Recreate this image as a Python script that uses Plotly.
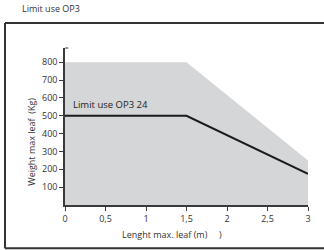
import plotly.graph_objects as go

# Data
area_x = [0, 1.5, 3]
area_y = [800, 800, 250]
line_x = [0, 1.5, 3]
line_y = [500, 500, 175]
x_tickvals = [0, 0.5, 1, 1.5, 2, 2.5, 3]
x_ticktext = ["0", "0,5", "1", "1,5", "2", "2,5", "3"]
y_tickvals = [100, 200, 300, 400, 500, 600, 700, 800]
y_ticktext = ["100", "200", "300", "400", "500", "600", "700", "800"]

FONT = "Open Sans"
DARK = "#3a3a3a"

fig = go.Figure()
fig.add_trace(go.Scatter(x=area_x, y=area_y, mode="lines", fill="tozeroy",
                         fillcolor="#d5d6d8", line=dict(width=0, color="#d5d6d8"),
                         hoverinfo="skip", showlegend=False))
fig.add_trace(go.Scatter(x=line_x, y=line_y, mode="lines",
                         line=dict(color="#1a1a1a", width=2), showlegend=False))

fig.update_layout(
    width=324, height=250,
    margin=dict(l=65, r=16, t=48, b=44.5),
    paper_bgcolor="white", plot_bgcolor="white",
    font=dict(family=FONT, size=9, color="#333333"),
    xaxis=dict(range=[0, 3], tickvals=x_tickvals, ticktext=x_ticktext,
               showgrid=False, zeroline=False, showline=True, linecolor=DARK,
               linewidth=1.5, ticks="outside", ticklen=4, tickcolor=DARK,
               tickwidth=1, tickfont=dict(size=9, family=FONT, color="#333")),
    yaxis=dict(range=[0, 880], tickvals=y_tickvals, ticktext=y_ticktext,
               showgrid=False, zeroline=False, showline=True, linecolor=DARK,
               linewidth=1.5, ticks="outside", ticklen=4, tickcolor=DARK,
               tickwidth=1, tickfont=dict(size=9, family=FONT, color="#333")),
)

# outer frame: top, left, bottom edges (right side runs past the picture edge)
frame = dict(color="#333333", width=2)
fig.add_shape(type="line", xref="paper", yref="paper",
              x0=-0.247, x1=1.2, y0=1.159, y1=1.159, line=frame)
fig.add_shape(type="line", xref="paper", yref="paper",
              x0=-0.247, x1=-0.247, y0=-0.276, y1=1.159, line=frame)
fig.add_shape(type="line", xref="paper", yref="paper",
              x0=-0.247, x1=1.2, y0=-0.276, y1=-0.276, line=frame)
# small tick at top of y axis
fig.add_shape(type="line", xref="paper", yref="paper",
              x0=0, x1=0.014, y0=1, y1=1, line=dict(color=DARK, width=1))

fig.add_annotation(text="Limit use OP3", xref="paper", yref="paper",
                   x=-0.185, y=1.254, xanchor="left", yanchor="middle",
                   showarrow=False, font=dict(size=9, family=FONT, color="#333"))
fig.add_annotation(text="Limit use OP3 24", x=0.07, y=561, xanchor="left",
                   yanchor="middle", showarrow=False,
                   font=dict(size=9.5, family=FONT, color="#222"))
fig.add_annotation(text="Weight max leaf  (Kg)", xref="paper", yref="paper",
                   x=-0.136, y=0.403, textangle=-90, xanchor="center",
                   yanchor="middle", showarrow=False,
                   font=dict(size=9, family=FONT, color="#333"))
fig.add_annotation(text="Lenght max. leaf (m)     )", xref="paper", yref="paper",
                   x=0.44, y=-0.187, xanchor="center", yanchor="middle",
                   showarrow=False, font=dict(size=9, family=FONT, color="#333"))

fig.write_html("out.html", config={"displayModeBar": False},
               post_script=("document.body.style.margin='0';"
                            "document.body.style.overflow='hidden';"
                            "document.documentElement.style.overflow='hidden';"))
